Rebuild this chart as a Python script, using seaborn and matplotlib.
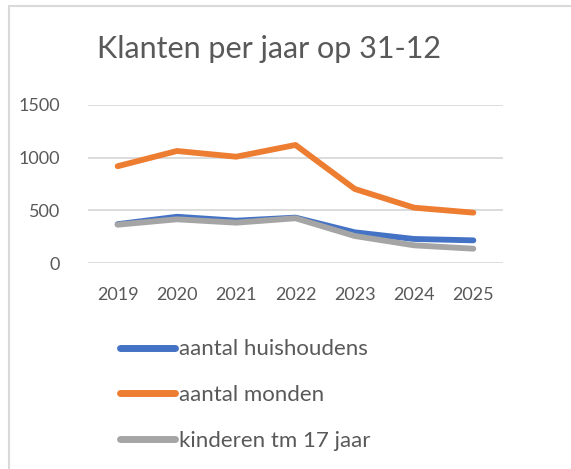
import pandas as pd
import numpy as np
import seaborn as sns
import matplotlib.pyplot as plt
from matplotlib.patches import Rectangle

jaren = ['2019', '2020', '2021', '2022', '2023', '2024', '2025']
huishoudens = [370, 440, 403, 432, 293, 230, 217]
monden = [918, 1062, 1008, 1119, 703, 526, 479]
kinderen = [365, 416, 384, 426, 258, 170, 138]
series = ['aantal huishoudens', 'aantal monden', 'kinderen tm 17 jaar']
kleuren = ['#4472C4', '#ED7D31', '#A5A5A5']

df = pd.DataFrame({'jaar': jaren * 3,
                   'waarde': huishoudens + monden + kinderen,
                   'reeks': np.repeat(series, len(jaren))})

sns.set_style('white')
plt.rcParams['font.family'] = ['Lato', 'DejaVu Sans']
tekst = '#595959'

fig = plt.figure(figsize=(5.71, 4.69), dpi=100)
ax = fig.add_axes([0.1541, 0.4386, 0.7268, 0.3382])

# grey drawn last so it sits on top of blue, like the original
sns.lineplot(data=df, x='jaar', y='waarde', hue='reeks', hue_order=series,
             palette=kleuren, linewidth=4.2, ax=ax, sort=False)
for ln in ax.get_lines():
    ln.set_solid_capstyle('round')
    ln.set_solid_joinstyle('round')

ax.set_xlim(-0.5, 6.5)
ax.set_ylim(0, 1500)
ax.set_yticks([0, 500, 1000, 1500])
ax.grid(axis='y', color='#D9D9D9', linewidth=1.3)
ax.set_axisbelow(True)
for s in ax.spines.values():
    s.set_visible(False)
ax.set_xlabel('')
ax.set_ylabel('')
ax.tick_params(axis='both', length=0, labelsize=13, colors=tekst)
ax.tick_params(axis='x', pad=17)
ax.tick_params(axis='y', pad=20)

fig.text(0.471, 0.895, 'Klanten per jaar op 31-12', ha='center', va='center',
         fontsize=22, color=tekst)

handles, labels = ax.get_legend_handles_labels()
ax.legend_.remove()
leg = fig.legend(handles, labels, loc='upper left', bbox_to_anchor=(0.191, 0.3),
                 frameon=False, fontsize=16, handlelength=2.45, handletextpad=0.2,
                 labelspacing=1.15, borderpad=0)
for t in leg.get_texts():
    t.set_color(tekst)
for h in leg.legend_handles:
    h.set_linewidth(5)
    h.set_solid_capstyle('round')

fig.patches.append(Rectangle((8.5 / 571, -0.1), 1.2, 1 - 6.5 / 469 + 0.1,
                             transform=fig.transFigure, fill=False,
                             edgecolor='#D9D9D9', linewidth=1.5))

fig.savefig('out.png', dpi=100)
